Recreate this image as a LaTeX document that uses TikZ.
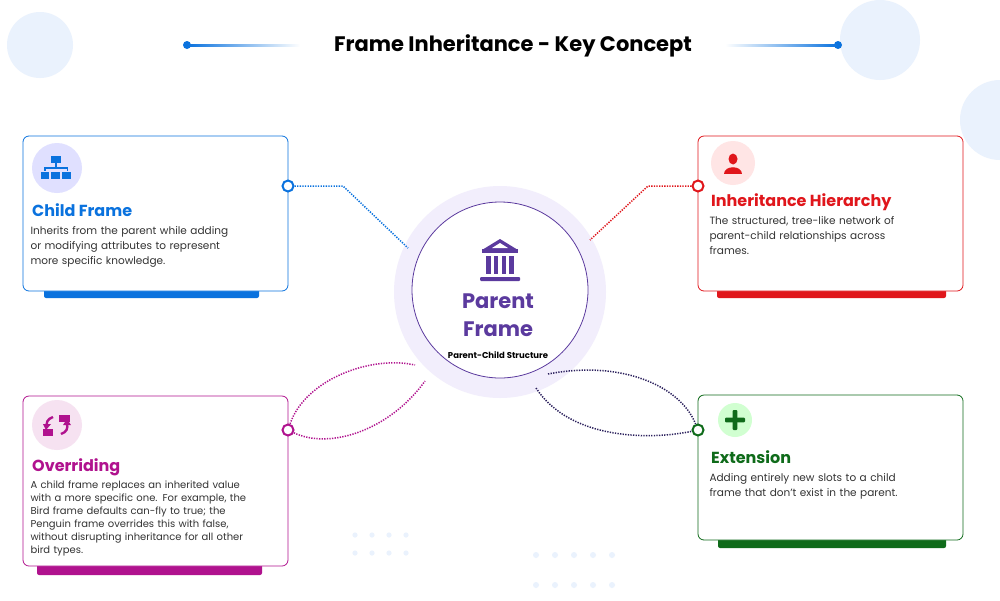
\documentclass[tikz,border=0pt]{standalone}
\usepackage{fontspec}
\setmainfont{Poppins}
\begin{document}
\begin{tikzpicture}[x=1pt,y=-1pt,
  card/.style={draw=#1,line width=0.8pt,rounded corners=6pt,fill=white},
  bar/.style={fill=#1,rounded corners=2pt},
  ttl/.style={anchor=base west,inner sep=0pt,font=\bfseries\fontsize{16}{18}\selectfont,text=#1},
  body/.style={anchor=north west,align=left,text width=250pt,font=\fontsize{10.5}{15}\selectfont,text=black!80},
  pin/.style={circle,draw=#1,line width=2pt,fill=white,inner sep=0pt,minimum size=11pt},
  dotline/.style={draw=#1,line width=1.5pt,dash pattern=on 1.3pt off 1.3pt},
  bgdot/.style={fill=#1,circle,inner sep=0pt,minimum size=6pt}]
\definecolor{cblue}{HTML}{0A72DE}
\definecolor{cred}{HTML}{E0161B}
\definecolor{cmag}{HTML}{B0128E}
\definecolor{cgreen}{HTML}{0F6B1A}
\definecolor{cpurp}{HTML}{5B3A9E}
\definecolor{cnavy}{HTML}{2A1F5C}
\definecolor{bgc}{HTML}{EAF2FD}
\definecolor{lav}{HTML}{F2EEFC}
\useasboundingbox (0,0) rectangle (1000,600);
\fill[white] (0,0) rectangle (1000,600);
% background circles
\fill[bgc] (40,45) circle (33);
\fill[bgc] (880,40) circle (40);
\fill[bgc] (1000,120) circle (40);
% bg dots
\foreach \x in {355,372,389,406}{\fill[bgc] (\x,535) circle(2.6); \fill[bgc] (\x,553) circle(2.6);}
\foreach \x in {536,555,574,593,612}{\fill[bgc] (\x,555) circle(3); \fill[bgc] (\x,585) circle(3);}
% title
\node (title) at (513,46) {\bfseries\fontsize{21}{24}\selectfont Frame Inheritance - Key Concept};
\node[bgdot=cblue,minimum size=8pt] (tl) at (187,45) {};
\node[bgdot=cblue,minimum size=8pt] (tr) at (838,45) {};
\shade[left color=cblue,right color=white] (187,44) rectangle (300,46);
\shade[left color=white,right color=cblue] (725,44) rectangle (838,46);
% center
\fill[lav] (500,292) circle (106);
\node[circle,draw=cpurp,line width=0.8pt,fill=white,minimum size=176pt] (center) at (500,290) {};
% temple icon
\begin{scope}[shift={(500,258)},fill=cpurp]
\fill (-18,-8) -- (0,-19) -- (18,-8) -- cycle;
\fill[white] (-8,-10) -- (0,-15) -- (8,-10) -- cycle;
\fill (-18,-9) rectangle (18,-5);
\foreach \x in {-14,-6.5,1.5,9}{\fill (\x,-2) rectangle (\x+4.5,16);}
\fill[rounded corners=1pt] (-20,19) rectangle (20,23);
\end{scope}
\node[text=cpurp,font=\bfseries\fontsize{21}{28}\selectfont,align=center] (ptxt) at (498,315) {Parent\\Frame};
\node[font=\bfseries\fontsize{8.5}{10}\selectfont] (psub) at (498,355) {Parent-Child Structure};
% ---- Child Frame
\fill[bar=cblue] (44,288) rectangle (259,298);
\draw[card=cblue] (23,136) rectangle (288,291);
\fill[blue!12] (57,168) circle (25);
\begin{scope}[shift={(56,168)},fill=cblue]
\fill (-5,-12) rectangle (5,-5);
\fill (-0.8,-5) rectangle (0.8,-1);
\fill (-12,-1.5) rectangle (12,0.5);
\fill (-12,-1.5) rectangle (-10.5,3); \fill (10.5,-1.5) rectangle (12,3);
\fill (-15,4) rectangle (-7,11); \fill (-5.5,4) rectangle (4,11); \fill (5.5,4) rectangle (15,11);
\end{scope}
\node[ttl=cblue] (t1) at (32,216) {Child Frame};
\node[body] (b1) at (27,223) {Inherits from the parent while adding\\or modifying attributes to represent\\more specific knowledge.};
\node[pin=cblue] (p1) at (288,186) {};
\coordinate (k1) at (343,186);
\coordinate (e1) at (408,248);
\draw[dotline=cblue] (p1) -- (k1) -- (e1);
% ---- Inheritance Hierarchy
\fill[bar=cred] (717,288) rectangle (946,298);
\draw[card=cred] (698,136) rectangle (963,291);
\fill[red!10] (733,163) circle (22);
\begin{scope}[shift={(733,163)},fill=cred]
\fill (0,-4) ellipse (4.5 and 5.5);
\fill (-9,11) .. controls (-9,2) and (9,2) .. (9,11) -- cycle;
\end{scope}
\node[ttl=cred] (t2) at (711,206) {Inheritance Hierarchy};
\node[body] (b2) at (706,213) {The structured, tree-like network of\\parent-child relationships across\\frames.};
\node[pin=cred] (p2) at (698,186) {};
\coordinate (k2) at (648,186);
\coordinate (e2) at (590,240);
\draw[dotline=cred] (p2) -- (k2) -- (e2);
% ---- Overriding
\fill[bar=cmag] (37,563) rectangle (262,575);
\draw[card=cmag] (23,396) rectangle (288,566);
\fill[cmag!12] (57,425) circle (25);
\begin{scope}[shift={(57,425)},fill=cmag]
\fill (2,-10) rectangle (13,-3);
\fill (-14,4) rectangle (-4,11);
\draw[cmag,line width=2.4pt] (-4,-8) .. controls (-10,-6) and (-11,-2) .. (-10,2);
\fill (-14,-1) -- (-6,-1) -- (-11,5) -- cycle;
\draw[cmag,line width=2.4pt] (4,9) .. controls (10,7) and (11,3) .. (10,-1);
\fill (6,0) -- (14,0) -- (10,-6) -- cycle;
\end{scope}
\node[ttl=cmag] (t3) at (32,471) {Overriding};
\node[body,font=\fontsize{10}{13}\selectfont] (b3) at (27,477) {A child frame replaces an inherited value\\with a more specific one. For example, the\\Bird frame defaults can-fly to true; the\\Penguin frame overrides this with false,\\without disrupting inheritance for all other\\bird types.};
\node[pin=cmag] (p3) at (288,430) {};
\coordinate (e3a) at (415,365);
\coordinate (e3b) at (425,381);
\draw[dotline=cmag] (p3) .. controls (305,380) and (370,355) .. (e3a);
\draw[dotline=cmag] (p3) .. controls (330,450) and (390,430) .. (e3b);
% ---- Extension
\fill[bar=cgreen] (718,537) rectangle (946,548);
\draw[card=cgreen] (698,395) rectangle (963,540);
\fill[green!18] (735,420) circle (17);
\begin{scope}[shift={(735,420)},fill=cgreen]
\fill[rounded corners=1pt] (-2.3,-10) rectangle (2.3,10);
\fill[rounded corners=1pt] (-10,-2.3) rectangle (10,2.3);
\end{scope}
\node[ttl=cgreen] (t4) at (711,463) {Extension};
\node[body] (b4) at (706,470) {Adding entirely new slots to a child\\frame that don't exist in the parent.};
\node[pin=cgreen] (p4) at (698,430) {};
\coordinate (e4a) at (548,374);
\coordinate (e4b) at (536,388);
\draw[dotline=cnavy] (e4a) .. controls (620,360) and (680,385) .. (p4);
\draw[dotline=cnavy] (e4b) .. controls (570,440) and (650,440) .. (p4);
\end{tikzpicture}
\end{document}
